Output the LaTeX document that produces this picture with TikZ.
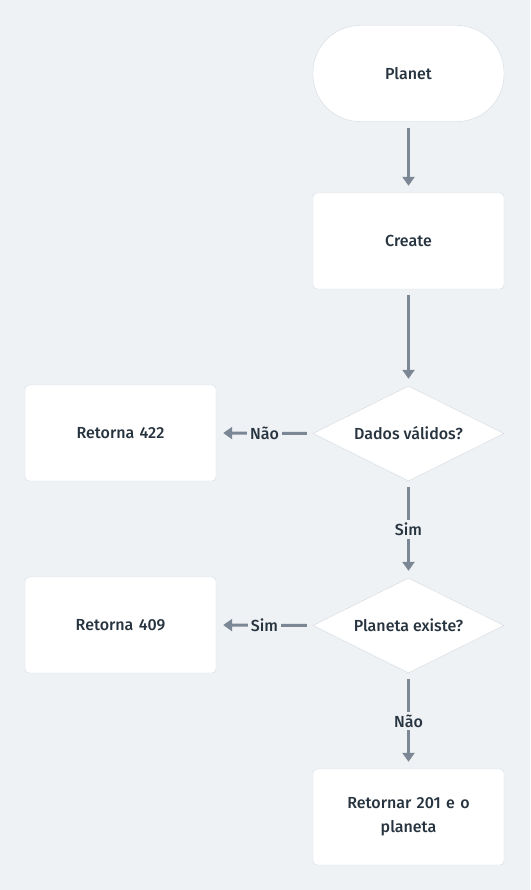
\documentclass[tikz,border=0pt]{standalone}
\usepackage{fontspec}
\setmainfont{Fira Sans}[UprightFont={* Medium}]
\usepackage{xcolor}
\usetikzlibrary{shapes.geometric,arrows.meta}
\definecolor{bgcol}{HTML}{EFF2F5}
\definecolor{inkcol}{HTML}{27343F}
\definecolor{arrowcol}{HTML}{7B8794}
\definecolor{edgecol}{HTML}{D5DADF}

\begin{document}
\begin{tikzpicture}[x=1pt,y=-1pt,%
% common options for the boxes:
box/.style = {draw=edgecol, fill=white, align=center, text=inkcol,
            rounded corners=4pt, minimum width=191pt, minimum height=96pt,
            text width=150pt, inner sep=0, line width=0.4pt, font=\fontsize{16}{24}\selectfont},
% start node:
terminal/.style = {box, rounded corners=47pt},
% decisions:
decision/.style = {diamond, draw=edgecol, fill=white, text=inkcol, aspect=2,
            minimum width=191pt, minimum height=95pt, inner sep=0,
            line width=0.4pt, font=\fontsize{16}{24}\selectfont},
% connectors and their labels:
flow/.style = {-{Triangle[width=12pt,length=9pt]}, draw=arrowcol, line width=3pt,
            shorten <=6pt, shorten >=7pt},
answer/.style = {fill=bgcol, text=inkcol, inner sep=3pt, font=\fontsize{16}{18}\selectfont}]
\fill[bgcol] (0,0) rectangle (530,890);
\useasboundingbox (0,0) rectangle (530,890);
\node[terminal] (P0) at (408.5,73.5) {Planet};
\node[box] (P1) at (408.5,241) {Create};
\node[decision] (D1) at (408.5,433.5) {Dados válidos?};
\node[box] (R1) at (120.5,433) {Retorna 422};
\node[decision] (D2) at (408.5,625.5) {Planeta existe?};
\node[box] (R2) at (120.5,625) {Retorna 409};
\node[box] (R3) at (408.5,817) {Retornar 201 e o\\planeta};
\draw[flow] (P0.south) to (P1.north);
\draw[flow] (P1.south) to (D1.north);
\draw[flow] (D1.west) to node[answer] {Não} (R1.east);
\draw[flow] (D1.south) to node[answer] {Sim} (D2.north);
\draw[flow] (D2.west) to node[answer] {Sim} (R2.east);
\draw[flow] (D2.south) to node[answer] {Não} (R3.north);
\end{tikzpicture}
\end{document}
